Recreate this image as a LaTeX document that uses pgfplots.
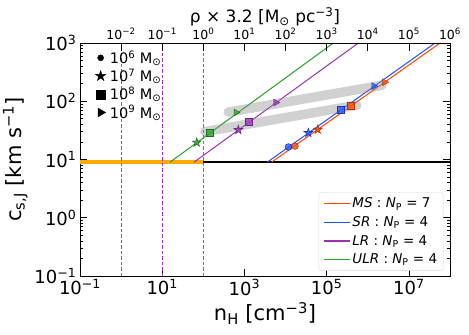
\documentclass[border=0pt]{standalone}
\usepackage{fontspec}
\setmainfont{DejaVu Sans}
\usepackage{pgfplots}
\pgfplotsset{compat=1.18}
\newcommand{\tp}[1]{10\textsuperscript{#1}}
\newcommand{\msun}{M\textsubscript{⊙}}

\definecolor{cms}{RGB}{255,69,0}
\definecolor{csr}{RGB}{30,80,255}
\definecolor{clr}{RGB}{153,50,180}
\definecolor{culr}{RGB}{40,160,40}
\definecolor{corange}{RGB}{255,170,0}

% filled five-pointed star, like matplotlib's '*'
\pgfdeclareplotmark{fstar}{%
	\pgfpathmoveto{\pgfpointpolar{90}{\pgfplotmarksize}}%
	\pgfpathlineto{\pgfpointpolar{126}{0.382\pgfplotmarksize}}%
	\pgfpathlineto{\pgfpointpolar{162}{\pgfplotmarksize}}%
	\pgfpathlineto{\pgfpointpolar{198}{0.382\pgfplotmarksize}}%
	\pgfpathlineto{\pgfpointpolar{234}{\pgfplotmarksize}}%
	\pgfpathlineto{\pgfpointpolar{270}{0.382\pgfplotmarksize}}%
	\pgfpathlineto{\pgfpointpolar{306}{\pgfplotmarksize}}%
	\pgfpathlineto{\pgfpointpolar{342}{0.382\pgfplotmarksize}}%
	\pgfpathlineto{\pgfpointpolar{18}{\pgfplotmarksize}}%
	\pgfpathlineto{\pgfpointpolar{54}{0.382\pgfplotmarksize}}%
	\pgfpathclose
	\pgfusepathqfillstroke}

\pgfplotsset{
	mk/.style={only marks, forget plot, draw=#1!70!black, fill=#1, fill opacity=0.75, mark options={solid, line width=0.6pt}},
	band/.style={forget plot, draw=black!45, opacity=0.4, line width=9.5pt, line cap=round},
	crit/.style={forget plot, color=#1, line width=1.2pt, dash pattern=on 3.5pt off 2pt},
}

\begin{document}
\begin{tikzpicture}
\begin{axis}[
	at={(0,0)}, anchor=south west,
	width=370pt, height=233pt, scale only axis,
	xmode=log, ymode=log,
	xmin=0.1, xmax=1e8, ymin=0.1, ymax=1000,
	xtick={1e-1,1e1,1e3,1e5,1e7},
	xticklabels={\tp{−1},\tp{1},\tp{3},\tp{5},\tp{7}},
	ytick={1e-1,1,10,100,1000},
	yticklabels={\tp{−1},\tp{0},\tp{1},\tp{2},\tp{3}},
	tick align=inside, xtick pos=left, ytick pos=both,
	major tick length=7pt, minor tick length=3.5pt,
	every tick/.style={black, line width=0.6pt},
	axis line style={black, line width=0.8pt},
	ticklabel style={font=\fontsize{18}{20}\selectfont},
	xlabel={n\textsubscript{H} [cm\textsuperscript{−3}]},
	ylabel={c\textsubscript{s,J} [km s\textsuperscript{−1}]},
	label style={font=\fontsize{21}{24}\selectfont},
	legend cell align=left,
	legend image code/.code={\draw[#1, line width=1.5pt] (0pt,0pt) -- (26pt,0pt);},
	legend style={at={(0.982,0.023)}, anchor=south east, draw=black!15,
		rounded corners=2pt, font=\fontsize{13.5}{16}\selectfont,
		row sep=3.2pt, inner xsep=4pt, inner ysep=3.3pt},
]
% floor
\addplot[forget plot, black, line width=2.2pt] coordinates {(100,9) (1e8,9)};
\addplot[forget plot, corange, line width=3.5pt] coordinates {(0.1,9) (100,9)};
% Jeans lines
\addplot[color=cms, line width=1pt] coordinates {(4571,9) (5.74e7,1000)};
\addlegendentry{\textit{MS} : \textit{N}\textsubscript{P} = 7}
\addplot[color=csr, line width=1pt] coordinates {(3606,9) (4.34e7,1000)};
\addlegendentry{\textit{SR} : \textit{N}\textsubscript{P} = 4}
\addplot[color=clr, line width=1pt] coordinates {(59.4,9) (5.9e5,1000)};
\addlegendentry{\textit{LR} : \textit{N}\textsubscript{P} = 4}
\addplot[color=culr, line width=1pt] coordinates {(15.5,9) (1.456e5,1000)};
\addlegendentry{\textit{ULR} : \textit{N}\textsubscript{P} = 4}
% critical densities
\addplot[crit=culr] coordinates {(1,0.1) (1,1000)};
\addplot[crit=clr] coordinates {(10,0.1) (10,1000)};
\addplot[crit=cms] coordinates {(100,0.1) (100,1000)};
% bands
\addplot[band] coordinates {(403,65) (2.2e6,188)};
\addplot[band] coordinates {(109,30.1) (5.4e5,85.5)};
% MS
\addplot[mk=cms, mark=*, mark size=3.3pt] coordinates {(1.70e4,17.0)};
\addplot[mk=cms, mark=fstar, mark size=4.5pt] coordinates {(6.07e4,32.6)};
\addplot[mk=cms, mark=square*, mark size=3.5pt] coordinates {(3.84e5,82.5)};
\addplot[mk=cms, mark=triangle*, mark size=4pt, mark options={rotate=-90}] coordinates {(2.57e6,212)};
% SR
\addplot[mk=csr, mark=*, mark size=3.3pt] coordinates {(1.17e4,16.4)};
\addplot[mk=csr, mark=fstar, mark size=4.5pt] coordinates {(3.59e4,28.6)};
\addplot[mk=csr, mark=square*, mark size=3.5pt] coordinates {(2.19e5,71)};
\addplot[mk=csr, mark=triangle*, mark size=4pt, mark options={rotate=-90}] coordinates {(1.40e6,182)};
% LR
\addplot[mk=clr, mark=fstar, mark size=4.5pt] coordinates {(711,32.2)};
\addplot[mk=clr, mark=square*, mark size=3.5pt] coordinates {(1294,44)};
\addplot[mk=clr, mark=triangle*, mark size=4pt, mark options={rotate=-90}] coordinates {(5768,95)};
% ULR
\addplot[mk=culr, mark=fstar, mark size=4.5pt] coordinates {(69,19.6)};
\addplot[mk=culr, mark=square*, mark size=3.5pt] coordinates {(140,28.2)};
\addplot[mk=culr, mark=triangle*, mark size=4pt, mark options={rotate=-90}] coordinates {(625,64)};
\end{axis}

\begin{axis}[
	at={(0,0)}, anchor=south west,
	width=370pt, height=233pt, scale only axis,
	xmode=log, ymode=log,
	xmin=1e-3, xmax=1e6, ymin=0.1, ymax=1000,
	axis x line*=top, axis y line=none,
	xtick={1e-2,1e-1,1,10,100,1e3,1e4,1e5,1e6},
	xticklabels={\tp{−2},\tp{−1},\tp{0},\tp{1},\tp{2},\tp{3},\tp{4},\tp{5},\tp{6}},
	xminorticks=false,
	tick align=inside, major tick length=8pt,
	every tick/.style={black, line width=0.6pt},
	axis line style={black, line width=0.8pt},
	ticklabel style={font=\fontsize{12.5}{14}\selectfont},
	xlabel={ρ × 3.2 [\msun{} pc\textsuperscript{−3}]},
	xlabel style={yshift=-4.5pt},
	label style={font=\fontsize{17}{20}\selectfont},
	legend cell align=left,
	legend style={at={(0.033,0.985)}, anchor=north west, draw=none, fill=none,
		font=\fontsize{14.5}{17}\selectfont, row sep=0pt,
		nodes={inner xsep=4pt}},
]
\addlegendimage{only marks, black, mark=*, mark size=3pt}
\addlegendentry{\tp{6} \msun}
\addlegendimage{only marks, black, mark=fstar, mark size=5.5pt}
\addlegendentry{\tp{7} \msun}
\addlegendimage{only marks, black, mark=square*, mark size=4.5pt}
\addlegendentry{\tp{8} \msun}
\addlegendimage{only marks, black, mark=triangle*, mark size=5pt, mark options={rotate=-90}}
\addlegendentry{\tp{9} \msun}
\end{axis}
\pgfresetboundingbox
\path[use as bounding box] (-80pt,-59pt) rectangle (389pt,276pt);
\end{tikzpicture}
\end{document}
